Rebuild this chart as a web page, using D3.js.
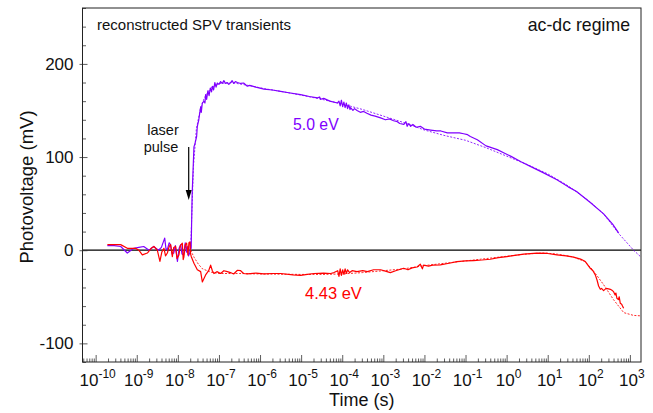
<!DOCTYPE html>
<html>
<head>
<meta charset="utf-8">
<script src="https://cdn.jsdelivr.net/npm/d3@7"></script>
<style>
  html, body { margin: 0; padding: 0; background: #fff; }
  svg { display: block; font-family: "Liberation Sans", Arial, Helvetica, sans-serif; }
</style>
</head>
<body>
<svg id="chart" width="653" height="413"></svg>
<script>
// Surface photovoltage transients; time given as log10(t / s), signal in mV.

// 5.0 eV excitation, measured
const purpleMeasured = [
  [-9.715,5],[-9.55,5],[-9.39,4],[-9.23,-3],[-9.07,2],[-8.95,3],[-8.83,4],[-8.70,0],[-8.59,4],[-8.47,0],
  [-8.40,3],[-8.32,13],[-8.29,2],[-8.26,0],[-8.21,8],[-8.18,6],[-8.14,-4],[-8.10,-3],[-8.06,5],[-8.01,-12],
  [-7.97,2],[-7.93,6],[-7.90,-4],[-7.86,-5],[-7.82,8],[-7.79,-2],[-7.77,4],[-7.74,-6],[-7.71,-3],[-7.69,8],
  [-7.676,2],[-7.652,60],[-7.608,111],[-7.58,115],[-7.543,122],[-7.526,133],[-7.49,140],[-7.445,154],[-7.43,148],
  [-7.404,158],[-7.365,160],[-7.34,158],[-7.324,167],[-7.30,162],[-7.27,171],[-7.24,166],[-7.21,174],[-7.18,170],
  [-7.161,176],[-7.13,172],[-7.10,180],[-7.07,175],[-7.039,179.5],[-7.0,178],[-6.959,181],[-6.92,179],[-6.88,182],
  [-6.837,179],[-6.80,180],[-6.76,178],[-6.715,180],[-6.68,182],[-6.64,179],[-6.60,181],[-6.55,180],[-6.472,179],
  [-6.40,179.5],[-6.309,176],[-6.25,177],[-6.1,175],[-5.905,173],[-5.7,172],[-5.499,170.5],[-5.3,169],[-5.012,167],
  [-4.8,165],[-4.6,163.5],[-4.55,164.5],[-4.526,162],[-4.45,163],[-4.3,160],[-4.119,158],[-4.08,160],[-4.05,155],
  [-4.02,161],[-3.99,154],[-3.96,159],[-3.93,153],[-3.90,158],[-3.87,152],[-3.84,156],[-3.81,151],[-3.796,153],
  [-3.74,150],[-3.70,152],[-3.64,150],[-3.56,148],[-3.479,149],[-3.4,147],[-3.3,145],[-3.2,144],[-3.066,142],
  [-2.95,140],[-2.85,141],[-2.75,139],[-2.659,138],[-2.6,136],[-2.5,135],[-2.45,138],[-2.42,133],[-2.38,136],
  [-2.336,133],[-2.28,135],[-2.2,132],[-2.1,133],[-2.0,130],[-1.849,129],[-1.7,128],[-1.6,128],[-1.443,126],
  [-1.3,126],[-1.15,126],[-1.046,125],[-0.95,124],[-0.883,122],[-0.713,118.6],[-0.5,112],[-0.226,108],
  [-0.073,104.6],[0.097,101],[0.35,95],[0.577,90],[0.9,83],[1.224,75.6],[1.5,68],[1.703,63],[2.044,51],
  [2.36,39],[2.579,28],[2.725,18.6]
];

// 5.0 eV excitation, fitted
const purpleFit = [
  [-7.69,0],[-7.62,90],[-7.55,130],[-7.45,152],[-7.35,164],[-7.2,174],[-7.0,179],[-6.7,180],[-6.3,177],
  [-5.9,173.5],[-5.5,170.5],[-5,166.5],[-4.5,162],[-4,157],[-3.5,151],[-3,144],[-2.5,137],[-2,129],
  [-1.5,123],[-1,118],[-0.5,110],[0,101],[0.5,92],[1,82],[1.5,69],[2,53],[2.36,39],[2.725,18],[3.09,0],[3.285,-8]
];

// 4.43 eV excitation, measured
const redMeasured = [
  [-9.715,6],[-9.55,6],[-9.392,6],[-9.229,2],[-9.027,2],[-8.95,0],[-8.864,-5],[-8.742,-3],[-8.65,2],[-8.581,4],
  [-8.50,0],[-8.436,-12],[-8.39,-2],[-8.338,2],[-8.30,-6],[-8.255,-3],[-8.21,4],[-8.175,6],[-8.134,-7],[-8.10,3],
  [-8.054,4],[-8.02,-9],[-7.973,-5],[-7.94,5],[-7.891,7.5],[-7.87,-10],[-7.852,-7],[-7.82,6],[-7.786,7.5],
  [-7.754,-5],[-7.73,8],[-7.706,9],[-7.69,-4],[-7.672,-7],[-7.608,-14],[-7.526,-21],[-7.445,-23],[-7.404,-34],
  [-7.324,-26.5],[-7.25,-22],[-7.202,-16],[-7.16,-22],[-7.122,-25],[-7.05,-23],[-6.959,-25],[-6.88,-22],
  [-6.796,-23],[-6.72,-24],[-6.642,-25.5],[-6.55,-21.5],[-6.472,-22],[-6.4,-25],[-6.309,-25.5],[-6.1,-24.5],
  [-5.905,-25.5],[-5.7,-25],[-5.499,-25],[-5.2,-26.5],[-5.012,-27],[-4.85,-26],[-4.689,-25],[-4.453,-24.7],
  [-4.282,-25],[-4.2,-24],[-4.11,-22],[-4.08,-28],[-4.05,-20],[-4.02,-27],[-3.99,-21],[-3.96,-26],[-3.93,-20],
  [-3.90,-25],[-3.87,-21],[-3.82,-24],[-3.76,-22],[-3.642,-23],[-3.5,-22],[-3.389,-23],[-3.236,-21],[-3.066,-21],
  [-2.95,-22.5],[-2.83,-24],[-2.7,-22],[-2.506,-19.4],[-2.4,-21],[-2.3,-19],[-2.18,-18],[-2.1,-15],[-2.05,-20],
  [-2.02,-16],[-1.9,-17],[-1.8,-16],[-1.613,-15.8],[-1.4,-14],[-1.209,-12.2],[-1.0,-11.5],[-0.803,-11.1],
  [-0.6,-10.5],[-0.397,-9.7],[-0.2,-8],[0.007,-6.8],[0.2,-5.5],[0.414,-4.3],[0.737,-3.2],[1.0,-3.5],[1.224,-5],
  [1.45,-6],[1.63,-7.5],[1.8,-9.5],[1.915,-12.2],[2.036,-19.4],[2.1,-22],[2.158,-26.5],[2.2,-32],[2.238,-38.4],
  [2.28,-42],[2.31,-41],[2.36,-43.4],[2.42,-41],[2.48,-41.5],[2.523,-42],[2.563,-43],[2.603,-44.5],[2.64,-48],
  [2.66,-46],[2.684,-51.6],[2.72,-53],[2.74,-50],[2.766,-57],[2.8,-58],[2.82,-60],[2.847,-62.4]
];

// 4.43 eV excitation, fitted
const redFit = [
  [-7.69,0],[-7.6,-8],[-7.5,-15],[-7.4,-20],[-7.2,-23.5],[-7,-25],[-6.5,-25],[-6,-25.5],[-5,-26],[-4.5,-26],
  [-4,-25.5],[-3.5,-24],[-3,-22],[-2.5,-20],[-2,-16.5],[-1.5,-14],[-1,-11.5],[-0.5,-9],[0,-6.5],[0.5,-4],
  [0.9,-3],[1.2,-4],[1.6,-7],[1.9,-12],[2.05,-19],[2.16,-25],[2.36,-37],[2.6,-53],[2.85,-67],[3.09,-70],[3.285,-70.5]
];

// axis ticks
const timeDecades = [-10,-9,-8,-7,-6,-5,-4,-3,-2,-1,0,1,2,3];
const voltMajor = [-100, 0, 100, 200];
const voltMinorStep = 20;

const colors = { e50: "#8000ff", e443: "#ff0000" };

const svg = d3.select("#chart");
const plotL = 82.5, plotR = 641, plotT = 8, plotB = 362;

const x = d3.scaleLog().domain([Math.pow(10, -10.32), Math.pow(10, 3.27)]).range([plotL, plotR]);
const y = d3.scaleLinear().domain([-120, 260]).range([plotB, plotT]);

svg.append("clipPath").attr("id", "plotclip")
  .append("rect").attr("x", plotL).attr("y", plotT).attr("width", plotR - plotL).attr("height", plotB - plotT);

// zero line
svg.append("line")
  .attr("x1", plotL).attr("x2", plotR).attr("y1", y(0)).attr("y2", y(0))
  .attr("stroke", "#000").attr("stroke-width", 1.3);

const line = d3.line().x(d => x(Math.pow(10, d[0]))).y(d => y(d[1]));
const plot = svg.append("g").attr("clip-path", "url(#plotclip)");

function drawFit(data, color) {
  plot.append("path").datum(data).attr("d", line)
    .attr("fill", "none").attr("stroke", color).attr("stroke-width", 1)
    .attr("stroke-dasharray", "2,1.5").attr("opacity", 0.85);
}
function drawMeasured(data, color) {
  plot.append("path").datum(data).attr("d", line)
    .attr("fill", "none").attr("stroke", color).attr("stroke-width", 1.2)
    .attr("stroke-linejoin", "round");
}
drawFit(purpleFit, colors.e50);
drawFit(redFit, colors.e443);
drawMeasured(purpleMeasured, colors.e50);
drawMeasured(redMeasured, colors.e443);

// x axis: decades inward, minor ticks 2..9
const minorTimes = [];
for (let e = -11; e <= 3; e++) for (let k = 2; k <= 9; k++) {
  const t = k * Math.pow(10, e);
  if (t >= x.domain()[0] && t <= x.domain()[1]) minorTimes.push(t);
}
svg.append("g").attr("transform", `translate(0,${plotB})`)
  .call(d3.axisBottom(x).tickValues(minorTimes).tickSize(-3.5).tickFormat(""))
  .call(g => g.select(".domain").remove())
  .call(g => g.selectAll("line").attr("stroke", "#333").attr("stroke-width", 0.8));
svg.append("g").attr("transform", `translate(0,${plotB})`)
  .call(d3.axisBottom(x).tickValues(timeDecades.map(e => Math.pow(10, e))).tickSize(-7).tickFormat(""))
  .call(g => g.select(".domain").remove())
  .call(g => g.selectAll("line").attr("stroke", "#333").attr("stroke-width", 0.8));

const xl = svg.append("g");
timeDecades.forEach(e => {
  const t = xl.append("text")
    .attr("x", x(Math.pow(10, e)) + 2).attr("y", 386)
    .attr("text-anchor", "middle").attr("font-size", 17).attr("fill", "#111");
  t.append("tspan").text("10");
  t.append("tspan").attr("dy", -8).attr("font-size", 12).text(String(e));
});

// y axis
const minorVolts = d3.range(-120, 261, voltMinorStep).filter(v => !voltMajor.includes(v));
svg.append("g").attr("transform", `translate(${plotL},0)`)
  .call(d3.axisLeft(y).tickValues(minorVolts).tickSize(-3.5).tickFormat(""))
  .call(g => g.select(".domain").remove())
  .call(g => g.selectAll("line").attr("stroke", "#333").attr("stroke-width", 0.8));
svg.append("g").attr("transform", `translate(${plotL},0)`)
  .call(d3.axisLeft(y).tickValues(voltMajor).tickSize(3).tickPadding(4).tickFormat(d => String(d)))
  .call(g => g.select(".domain").remove())
  .call(g => g.selectAll("line").attr("x2", -3).attr("x1", 5).attr("stroke", "#333").attr("stroke-width", 0.8))
  .call(g => g.selectAll("text").attr("font-size", 17).attr("fill", "#111")
    .attr("font-family", "Liberation Sans, Arial, sans-serif").attr("x", -9));

// frame
svg.append("rect").attr("x", plotL).attr("y", plotT).attr("width", plotR - plotL).attr("height", plotB - plotT)
  .attr("fill", "none").attr("stroke", "#222").attr("stroke-width", 1);

// axis titles
svg.append("text").attr("x", (plotL + plotR) / 2).attr("y", 406).attr("text-anchor", "middle")
  .attr("font-size", 18).attr("fill", "#111").text("Time (s)");
svg.append("text").attr("transform", `translate(33,${(plotT + plotB) / 2 + 2}) rotate(-90)`)
  .attr("text-anchor", "middle").attr("font-size", 18.5).attr("fill", "#111").text("Photovoltage (mV)");

// annotations
svg.append("text").attr("x", 97).attr("y", 30).attr("font-size", 15).attr("fill", "#111")
  .attr("textLength", 194).attr("lengthAdjust", "spacingAndGlyphs")
  .text("reconstructed SPV transients");
svg.append("text").attr("x", 630).attr("y", 31).attr("text-anchor", "end").attr("font-size", 17.7).attr("fill", "#111")
  .text("ac-dc regime");
svg.append("text").attr("x", 163).attr("y", 135).attr("text-anchor", "middle").attr("font-size", 14.5).attr("fill", "#111")
  .text("laser");
svg.append("text").attr("x", 161).attr("y", 152).attr("text-anchor", "middle").attr("font-size", 14.5).attr("fill", "#111")
  .text("pulse");
svg.append("text").attr("x", 293).attr("y", 130).attr("font-size", 15.8).attr("fill", colors.e50).text("5.0 eV");
svg.append("text").attr("x", 305).attr("y", 299).attr("font-size", 16.5).attr("fill", colors.e443).text("4.43 eV");

// laser pulse arrow
const ax = 188.7;
svg.append("line").attr("x1", ax).attr("x2", ax).attr("y1", 147).attr("y2", 193)
  .attr("stroke", "#000").attr("stroke-width", 1.2);
svg.append("path").attr("d", `M${ax - 3},190 L${ax + 3},190 L${ax},200 Z`).attr("fill", "#000");
</script>
</body>
</html>
